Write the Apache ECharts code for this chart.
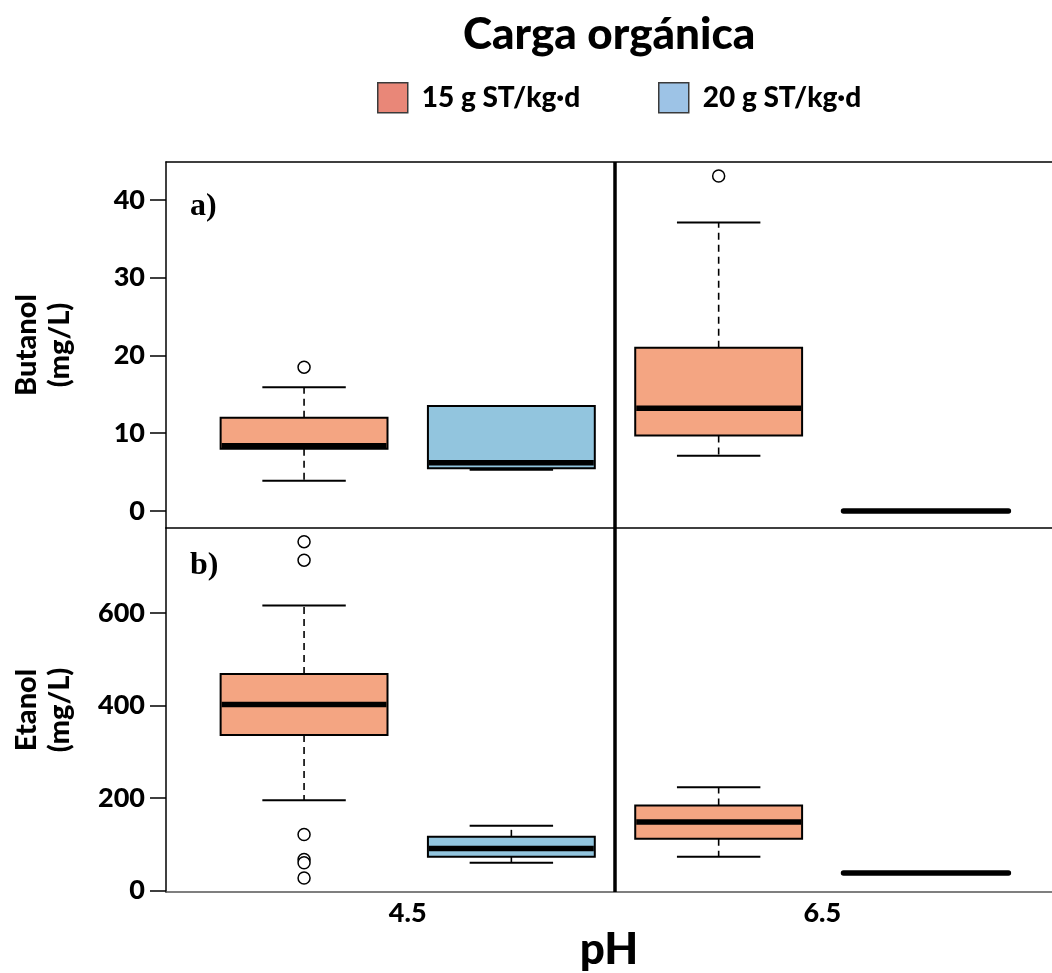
<!DOCTYPE html>
<html>
<head>
<meta charset="utf-8">
<script src="https://cdn.jsdelivr.net/npm/echarts@6/dist/echarts.min.js"></script>
<style>html,body{margin:0;padding:0;background:#fff}#c{width:1052px;height:973px}</style>
</head>
<body>
<div id="c"></div>
<script>
// ---------------- data ----------------
const phLevels = ['4.5', '6.5'];
const loads = ['15 g ST/kg·d', '20 g ST/kg·d'];
// [min, Q1, median, Q3, max] per pH level
const butanol15 = [[3.9, 8.0, 8.4, 12.0, 15.9], [7.1, 9.7, 13.2, 21.0, 37.1]];
const butanol20 = [[5.3, 5.5, 6.2, 13.5, 13.5], [0, 0, 0, 0, 0]];
const butanolOut15 = [[18.5], [43.1]];
const butanolOut20 = [[], []];
const etanol15 = [[195, 336, 402, 468, 616], [73, 112, 148, 184, 223]];
const etanol20 = [[60, 73, 91, 116, 140], [38, 38, 38, 38, 38]];
const etanolOut15 = [[754, 714, 121, 67, 60, 27], []];
const etanolOut20 = [[], []];
const butanolTicks = [0, 10, 20, 30, 40];
const etanolTicks = [0, 200, 400, 600];
const panelLetters = ['a)', 'b)'];

// ---------------- style ----------------
const FONT = 'Lato';
const boxColors = ['#F4A582', '#92C5DE'];
const legendColors = ['#E98778', '#9DC3E6'];
const BOX_FRAC = 0.805;

function pos(i, j) { return 2 * i + j + 1; }
function boxData(stats, j) { return stats.map((s, i) => [pos(i, j)].concat(s)); }
function outData(outs, j) {
  const d = [];
  outs.forEach((arr, i) => arr.forEach(v => d.push([pos(i, j), v])));
  return d;
}

function renderBox(params, api) {
  const x = api.value(0);
  const vmin = api.value(1), q1 = api.value(2), med = api.value(3), q3 = api.value(4), vmax = api.value(5);
  const pMin = api.coord([x, vmin]), pQ1 = api.coord([x, q1]), pMed = api.coord([x, med]);
  const pQ3 = api.coord([x, q3]), pMax = api.coord([x, vmax]);
  const bw = api.size([1, 0])[0] * BOX_FRAC;
  const cx = pMed[0], half = bw / 2, capHalf = bw / 4;
  const color = api.visual('color');
  const children = [];
  const dash = { stroke: '#000', lineWidth: 1.6, lineDash: [7, 5] };
  const solid = { stroke: '#000', lineWidth: 2 };
  const flat = Math.abs(pQ1[1] - pQ3[1]) < 1 && Math.abs(pMin[1] - pMax[1]) < 1;
  if (!flat) {
    if (pMin[1] - pQ1[1] > 1) children.push({ type: 'line', shape: { x1: cx, y1: pQ1[1], x2: cx, y2: pMin[1] }, style: dash });
    if (pQ3[1] - pMax[1] > 1) children.push({ type: 'line', shape: { x1: cx, y1: pQ3[1], x2: cx, y2: pMax[1] }, style: dash });
    children.push({ type: 'line', shape: { x1: cx - capHalf, y1: pMin[1], x2: cx + capHalf, y2: pMin[1] }, style: solid });
    if (pQ3[1] - pMax[1] > 1) children.push({ type: 'line', shape: { x1: cx - capHalf, y1: pMax[1], x2: cx + capHalf, y2: pMax[1] }, style: solid });
    children.push({ type: 'rect', shape: { x: cx - half, y: pQ3[1], width: bw, height: pQ1[1] - pQ3[1] },
      style: { fill: color, stroke: '#000', lineWidth: 2 } });
  }
  children.push({ type: 'line', shape: { x1: cx - half + 1, y1: pMed[1], x2: cx + half - 1, y2: pMed[1] },
    style: { stroke: '#000', lineWidth: 5.5, lineCap: flat ? 'round' : 'butt' } });
  return { type: 'group', children };
}

const X_MIN = 0.334, X_MAX = 4.608;

function xAxisFor(gridIndex, position, showLabels, color) {
  return {
    type: 'value', gridIndex, position, min: X_MIN, max: X_MAX,
    axisLine: { show: true, onZero: false, lineStyle: { color, width: 1.5 } },
    axisTick: { show: false },
    splitLine: { show: false },
    axisLabel: {
      show: showLabels, customValues: phLevels.map((_, i) => 2 * i + 1.5),
      formatter: v => phLevels[Math.round((v - 1.5) / 2)],
      fontFamily: FONT, fontWeight: 900, fontSize: 27, color: '#000', margin: 8
    },
    name: showLabels ? 'pH' : '', nameLocation: 'middle', nameGap: 36,
    nameTextStyle: { fontFamily: FONT, fontWeight: 900, fontSize: 44, color: '#000' }
  };
}
function yAxisFor(gridIndex, min, max, ticks, name) {
  return {
    type: 'value', gridIndex, min, max,
    axisLine: { show: true, onZero: false, lineStyle: { color: '#000', width: 1.5 } },
    axisTick: { show: true, length: 16, customValues: ticks, lineStyle: { color: '#000', width: 1.5 } },
    axisLabel: { customValues: ticks, fontFamily: FONT, fontWeight: 900, fontSize: 27, color: '#000', margin: 21 },
    splitLine: { show: false },
    name, nameLocation: 'middle', nameRotate: 90, nameGap: 90,
    nameTextStyle: { fontFamily: FONT, fontWeight: 900, fontSize: 29, color: '#000', lineHeight: 33, align: 'center' }
  };
}

const divider = {
  silent: true, symbol: 'none', label: { show: false },
  lineStyle: { color: '#000', width: 3.5, type: 'solid' },
  data: [{ xAxis: 2.5 }]
};

const series = [];
const panels = [
  { s15: butanol15, s20: butanol20, o15: butanolOut15, o20: butanolOut20, xi: 0 },
  { s15: etanol15, s20: etanol20, o15: etanolOut15, o20: etanolOut20, xi: 2 }
];
panels.forEach((p, g) => {
  [p.s15, p.s20].forEach((stats, j) => {
    const s = {
      type: 'custom', name: loads[j], xAxisIndex: p.xi, yAxisIndex: g,
      itemStyle: { color: boxColors[j] },
      renderItem: renderBox, data: boxData(stats, j),
      encode: { x: 0, y: [1, 2, 3, 4, 5] }, clip: false, z: 3
    };
    if (j === 0) s.markLine = divider;
    series.push(s);
  });
  [p.o15, p.o20].forEach((outs, j) => {
    series.push({
      type: 'scatter', name: loads[j], xAxisIndex: p.xi, yAxisIndex: g,
      symbol: 'circle', symbolSize: 12, z: 4,
      itemStyle: { color: '#fff', borderColor: '#000', borderWidth: 1.5, opacity: 1 },
      data: outData(outs, j)
    });
  });
});

const legendBase = {
  top: 82, padding: 0, itemWidth: 30, itemHeight: 30, icon: 'rect',
  textStyle: { fontFamily: FONT, fontWeight: 900, fontSize: 28, color: '#000', padding: [0, 0, 0, 9] }
};

const option = {
  backgroundColor: '#fff',
  animation: false,
  title: [
    { text: 'Carga orgánica', left: 458, top: 8,
      textStyle: { fontFamily: FONT, fontWeight: 900, fontSize: 44, color: '#000' } },
    { text: panelLetters[0], left: 185, top: 186,
      textStyle: { fontFamily: 'Liberation Serif', fontWeight: 'bold', fontSize: 32, color: '#000' } },
    { text: panelLetters[1], left: 185, top: 545,
      textStyle: { fontFamily: 'Liberation Serif', fontWeight: 'bold', fontSize: 32, color: '#000' } }
  ],
  legend: loads.map((name, j) => Object.assign({}, legendBase, {
    left: j === 0 ? 377 : 658,
    data: [{ name, itemStyle: { color: legendColors[j], borderColor: '#3a3a3a', borderWidth: 1.5 } }]
  })),
  grid: [
    { left: 166, top: 162, right: 0, height: 366 },
    { left: 166, top: 528, right: 0, height: 364 }
  ],
  xAxis: [
    xAxisFor(0, 'bottom', false, '#000'),
    xAxisFor(0, 'top', false, '#000'),
    xAxisFor(1, 'bottom', true, '#555')
  ],
  yAxis: [
    yAxisFor(0, -2.19, 44.89, butanolTicks, 'Butanol\n(mg/L)'),
    yAxisFor(1, -3.2, 783.5, etanolTicks, 'Etanol\n(mg/L)')
  ],
  series
};

const chart = echarts.init(document.getElementById('c'), null, { renderer: 'canvas' });
chart.setOption(option);
</script>
</body>
</html>
